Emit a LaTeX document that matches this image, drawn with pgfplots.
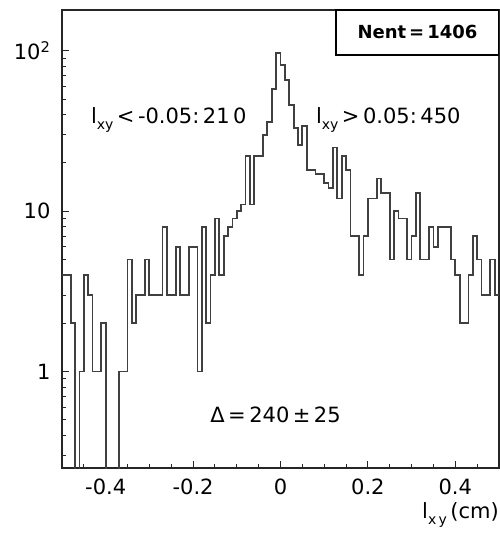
\documentclass[border=0pt]{standalone}
\usepackage{pgfplots}
\pgfplotsset{compat=1.18}
\usepackage{pgfplotstable}
\usepackage{fontspec}
\setmainfont{DejaVu Sans}

% Decay-length distribution, 0.01 cm bins (left edge, entries).
% Empty bins are given as 0.01 so that they fall below the log floor.
\pgfplotstableread{
x y
-0.50 4
-0.49 4
-0.48 2
-0.47 0.01
-0.46 1
-0.45 4
-0.44 3
-0.43 1
-0.42 1
-0.41 2
-0.40 0.01
-0.39 0.01
-0.38 0.01
-0.37 1
-0.36 1
-0.35 5
-0.34 2
-0.33 3
-0.32 3
-0.31 5
-0.30 3
-0.29 3
-0.28 3
-0.27 8
-0.26 3
-0.25 3
-0.24 6
-0.23 3
-0.22 3
-0.21 6
-0.20 6
-0.19 1
-0.18 8
-0.17 2
-0.16 4
-0.15 9
-0.14 4
-0.13 7
-0.12 8
-0.11 9
-0.10 10
-0.09 11
-0.08 22
-0.07 11
-0.06 22
-0.05 22
-0.04 30
-0.03 36
-0.02 58
-0.01 97
0.00 82
0.01 66
0.02 46
0.03 33
0.04 26
0.05 34
0.06 18
0.07 18
0.08 17
0.09 17
0.10 15
0.11 14
0.12 25
0.13 12
0.14 22
0.15 18
0.16 7
0.17 7
0.18 4
0.19 7
0.20 12
0.21 12
0.22 16
0.23 13
0.24 13
0.25 5
0.26 10
0.27 9
0.28 9
0.29 5
0.30 7
0.31 13
0.32 5
0.33 5
0.34 8
0.35 6
0.36 8
0.37 8
0.38 8
0.39 5
0.40 4
0.41 2
0.42 2
0.43 4
0.44 7
0.45 5
0.46 3
0.47 3
0.48 5
0.49 3
0.50 3
}\lxydata

\begin{document}
\begin{tikzpicture}
\useasboundingbox (-62pt,-65pt) rectangle (438pt,468pt);
\begin{axis}[
  scale only axis,
  width=437pt, height=458pt,
  at={(0pt,0pt)}, anchor=south west,
  ymode=log,
  xmin=-0.5, xmax=0.5,
  ymin=0.25, ymax=180,
  axis line style={line width=2.2pt, black!85},
  xtick={-0.4,-0.2,0,0.2,0.4},
  xticklabels={-0.4,-0.2,0,0.2,0.4},
  minor xtick={-0.45,-0.35,-0.3,-0.25,-0.15,-0.1,-0.05,0.05,0.1,0.15,0.25,0.3,0.35,0.45},
  ytick={1,10,100},
  yticklabels={1,10,10\textsuperscript{2}},
  minor ytick={0.3,0.4,0.5,0.6,0.7,0.8,0.9,2,3,4,5,6,7,8,9,20,30,40,50,60,70,80,90},
  xtick pos=bottom, ytick pos=left,
  tick align=inside,
  major tick length=7pt, minor tick length=4pt,
  every tick/.style={black!85, line width=1pt},
  tick label style={font=\fontsize{21}{25}\selectfont},
  xticklabel style={yshift=-7pt},
  yticklabel style={xshift=-8pt},
  xlabel={l\raisebox{-0.55ex}{\fontsize{14}{14}\selectfont x\,y}\,(cm)},
  xlabel style={at={(axis description cs:1,0)}, anchor=base east,
    yshift=-50pt, font=\fontsize{21}{25}\selectfont, inner sep=0pt},
]
\addplot[const plot, line width=1.8pt, black!75] table[x=x, y=y] {\lxydata};

\draw[line width=2pt, black, fill=white]
  (rel axis cs:0.627,0.902) rectangle (rel axis cs:1,1);
\node[font=\bfseries\fontsize{18}{22}\selectfont] at (rel axis cs:0.8135,0.951)
  {Nent\,=\,1406};

\node[anchor=base west, inner sep=0pt, font=\fontsize{21}{25}\selectfont]
  at (rel axis cs:0.066,0.753)
  {l\raisebox{-0.55ex}{\fontsize{14}{14}\selectfont xy}\,<\,-0.05:\,21\,0};
\node[anchor=base west, inner sep=0pt, font=\fontsize{21}{25}\selectfont]
  at (rel axis cs:0.581,0.753)
  {l\raisebox{-0.55ex}{\fontsize{14}{14}\selectfont xy}\,>\,0.05:\,450};
\node[anchor=base west, inner sep=0pt, font=\fontsize{21}{25}\selectfont]
  at (rel axis cs:0.339,0.10)
  {Δ\,=\,240\,±\,25};
\end{axis}
\end{tikzpicture}
\end{document}
